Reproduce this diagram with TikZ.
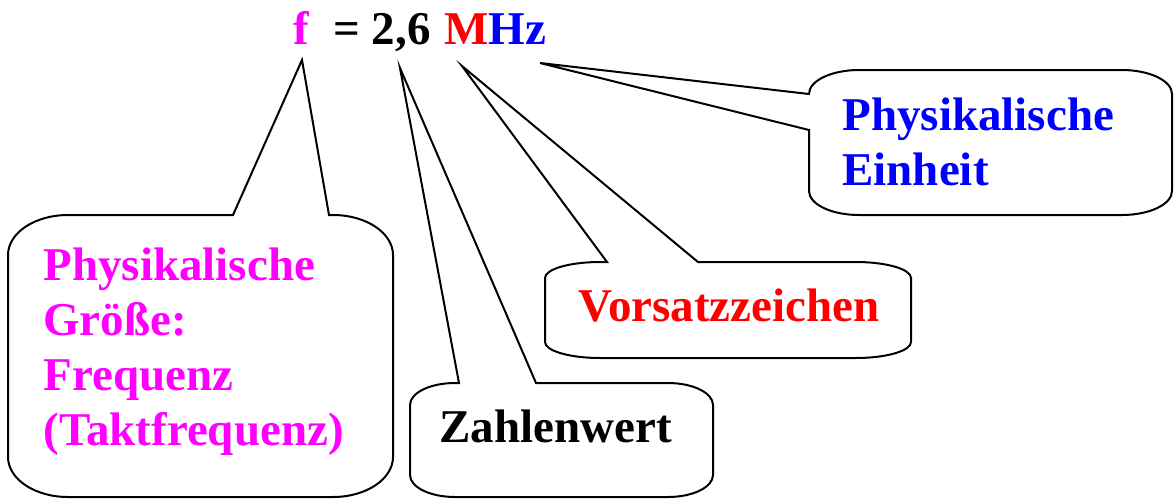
\documentclass[tikz,border=0pt]{standalone}
\usepackage{fontspec}
\setmainfont{Liberation Serif}
\definecolor{mag}{RGB}{255,0,255}
\definecolor{pred}{RGB}{255,0,0}
\definecolor{pblue}{RGB}{0,0,255}
\begin{document}
\begin{tikzpicture}[x=0.5pt,y=-0.5pt,
  callout/.style={draw=black,line width=1pt,fill=white,line join=miter},
  lbl/.style={anchor=base west,inner sep=0pt,font=\fontsize{23.5}{27.5}\selectfont\bfseries},
  ml/.style={lbl,align=left}]
\useasboundingbox (0,0) rectangle (1174,499);
% formula
\node[lbl,text=mag] (f) at (293,44) {f};
\node[lbl] (num) at (333,44) {= 2,6};
\node[lbl] (unit) at (444,44) {\textcolor{pred}{M}\textcolor{pblue}{Hz}};
% tips
\coordinate (t1) at (302,60);
\coordinate (t2) at (400,68);
\coordinate (t3) at (462,66);
\coordinate (t4) at (540,63);
% callout 1: Groesse
\draw[callout] (8,255) arc[start angle=180,end angle=270,x radius=60,y radius=40]
  -- (233,215) -- (t1) -- (329,215) -- (333,215)
  arc[start angle=270,end angle=360,x radius=60,y radius=40] -- (393,457)
  arc[start angle=0,end angle=90,x radius=60,y radius=40] -- (68,497)
  arc[start angle=90,end angle=180,x radius=60,y radius=40] -- cycle;
% callout 2: Zahlenwert
\draw[callout] (410,405) arc[start angle=180,end angle=270,x radius=45,y radius=22]
  -- (459,383) -- (t2) -- (536,383) -- (668,383)
  arc[start angle=270,end angle=360,x radius=45,y radius=22] -- (713,475)
  arc[start angle=0,end angle=90,x radius=45,y radius=22] -- (455,497)
  arc[start angle=90,end angle=180,x radius=45,y radius=22] -- cycle;
% callout 3: Vorsatzzeichen
\draw[callout] (545,278) arc[start angle=180,end angle=270,x radius=55,y radius=16]
  -- (607,262) -- (t3) -- (698,262) -- (856,262)
  arc[start angle=270,end angle=360,x radius=55,y radius=16] -- (911,342)
  arc[start angle=0,end angle=90,x radius=55,y radius=16] -- (600,358)
  arc[start angle=90,end angle=180,x radius=55,y radius=16] -- cycle;
% callout 4: Einheit
\draw[callout] (859,70) -- (1122,70)
  arc[start angle=270,end angle=360,x radius=50,y radius=24] -- (1172,191)
  arc[start angle=0,end angle=90,x radius=50,y radius=24] -- (859,215)
  arc[start angle=90,end angle=180,x radius=50,y radius=24] -- (809,130) -- (t4) -- (809,94)
  arc[start angle=180,end angle=270,x radius=50,y radius=24] -- cycle;
% labels (base anchor = baseline of last line)
\node[ml,text=mag] (groesse) at (43,445) {Physikalische\\Größe:\\Frequenz\\(Taktfrequenz)};
\node[lbl] (zahl) at (439,442) {Zahlenwert};
\node[lbl,text=pred] (vors) at (578,321) {Vorsatzzeichen};
\node[ml,text=pblue] (einheit) at (842,185) {Physikalische\\Einheit};
\end{tikzpicture}
\end{document}
